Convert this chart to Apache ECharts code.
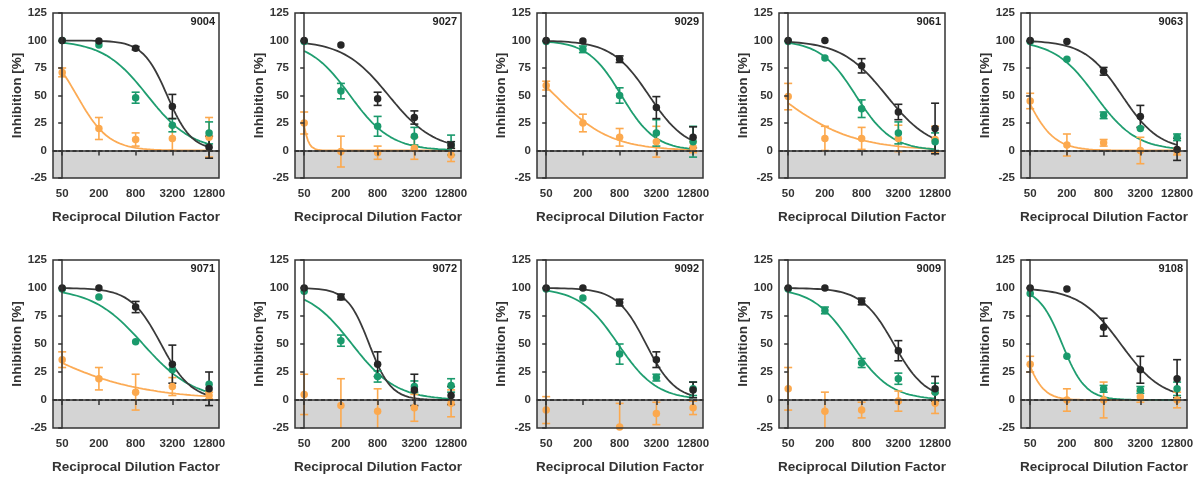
<!DOCTYPE html>
<html>
<head>
<meta charset="utf-8">
<title>Inhibition vs Reciprocal Dilution Factor</title>
<script src="https://cdn.jsdelivr.net/npm/echarts@6.0.0/dist/echarts.min.js"></script>
<style>
    html, body { margin: 0; padding: 0; background: #fff; }
    #main { width: 1203px; height: 482px; }
</style>
</head>
<body>
<div id="main"></div>
<script>
// 样本编号
var panelNames = ['9004', '9027', '9029', '9061', '9063', '9071', '9072', '9092', '9009', '9108'];
// x 轴刻度
var dilutionLabels = ['50', '200', '800', '3200', '12800'];

// 黑色组：均值 / 误差
var blackMean = [
    [100, 99.5, 93, 40, 3],
    [100, 96, 47, 30, 5],
    [100, 99.5, 83, 39, 12],
    [100, 100, 77, 35, 20],
    [100, 99, 72, 31, 1],
    [100, 100, 83, 32, 10],
    [100, 92, 32, 9, 4],
    [100, 100, 87, 36, 9],
    [100, 100, 88, 44, 10],
    [100, 99, 65, 27, 19]
];
var blackErr = [
    [0, 0, 1.5, 11, 10],
    [0, 0, 6, 6, 3],
    [0, 0, 3, 10, 9.5],
    [0, 0, 6.5, 7, 23],
    [0, 0, 3.5, 10, 10],
    [0, 0, 5, 17, 15],
    [0, 2.5, 11, 14, 8],
    [0, 0, 3, 7, 7],
    [0, 0, 3, 9, 11],
    [0, 0, 8, 12, 17]
];

// 绿色组
var greenMean = [
    [100, 96, 48, 23, 16],
    [99, 54, 22, 13, 5],
    [99, 92, 50, 16, 8],
    [99, 84, 38, 16, 8],
    [99, 83, 32, 20, 12],
    [99, 92, 52, 27, 14],
    [97, 53, 21, 12, 13],
    [99, 91, 41, 20, 10],
    [99, 80, 33, 19, 7],
    [95, 39, 10, 9, 10]
];
var greenErr = [
    [0, 0, 5, 6, 10],
    [0, 7, 9, 8, 9],
    [0, 3, 7, 12, 14],
    [0, 0, 8, 10, 8],
    [0, 0, 3, 0, 3],
    [0, 0, 0, 0, 0],
    [0, 5, 5, 5, 6],
    [0, 0, 9, 3, 6],
    [0, 3, 4, 5, 8],
    [0, 0, 3, 3, 6]
];

// 橙色组
var orangeMean = [
    [71, 20, 10, 11, 12],
    [25, -1, -2, 2, -4],
    [59, 25, 12, 8, 3],
    [49, 11, 11, 11, 10],
    [45, 5, 7, 0, -1],
    [36, 19, 7, 12, 4],
    [5, -5, -10, -7, -3],
    [-9, null, -24, -12, -7],
    [10, -10, -9, -1, -3],
    [32, 0, 0, 3, 0]
];
var orangeErr = [
    [4, 10, 6, 11, 18],
    [10, 14, 6, 10, 6],
    [4, 8, 8, 14, 5],
    [12, 11, 10, 12, 12],
    [7, 10, 3, 12, 3],
    [7, 10, 16, 8, 3],
    [18, 24, 20, 12, 12],
    [12, 0, 21, 10, 6],
    [19, 17, 7, 9, 9],
    [7, 10, 16, 5, 7]
];

// 拟合曲线参数 [IC50 位置(刻度序号), 斜率]，读自原图
var blackFit = [
    [2.86, 1.31], [2.3, 0.7], [2.8, 0.85], [2.675, 0.707], [2.5, 0.85],
    [2.69, 1.05], [1.77, 1.45], [2.72, 1.095], [2.876, 0.99], [2.466, 0.767]
];
var greenFit = [
    [2.32, 0.72], [1.25, 0.78], [2.05, 0.95], [1.843, 0.893], [1.774, 0.778],
    [2.2, 0.627], [1.3, 0.72], [1.957, 0.823], [1.73, 0.824], [0.872, 1.371]
];
var orangeFit = [
    [0.4, 1.0], [-0.12, 4.5], [0.246, 0.57], [-0.287, 0.427], [-0.123, 1.139],
    [-1.04, 0.295], null, null, null, [-0.222, 1.654]
];

var COLORS = {
    black: {point: '#262626', line: '#3a3a3a'},
    green: {point: '#1a9a6c', line: '#1f9e70'},
    orange: {point: '#fca94e', line: '#fcab55'}
};
var FONT = '"Liberation Sans", Arial, sans-serif';

$ready();

/**
 * 页面初始化
 */
function $ready() {
    var myChart = echarts.init(document.getElementById('main'), null, {renderer: 'canvas'});
    myChart.setOption(buildOption(), true);
}

/**
 * 四参数曲线（顶 100，底 0）
 */
function fitCurve(fit) {
    var pts = [];
    for (var i = 0; i <= 80; i++) {
        var x = i * 0.05;
        pts.push([x, 100 / (1 + Math.pow(10, fit[1] * (x - fit[0])))]);
    }
    return pts;
}

function toPoints(mean, err) {
    var pts = [];
    for (var i = 0; i < mean.length; i++) {
        if (mean[i] === null) continue;
        pts.push([i, mean[i], err[i]]);
    }
    return pts;
}

/**
 * 误差线
 */
function renderErrorBar(params, api) {
    var x = api.value(0), y = api.value(1), e = api.value(2);
    if (!e) return;
    var top = api.coord([x, y + e]);
    var bot = api.coord([x, y - e]);
    var w = 4;
    var style = {stroke: api.visual('color'), lineWidth: 1.6};
    return {
        type: 'group',
        children: [
            {type: 'line', shape: {x1: top[0], y1: top[1], x2: bot[0], y2: bot[1]}, style: style},
            {type: 'line', shape: {x1: top[0] - w, y1: top[1], x2: top[0] + w, y2: top[1]}, style: style},
            {type: 'line', shape: {x1: bot[0] - w, y1: bot[1], x2: bot[0] + w, y2: bot[1]}, style: style}
        ]
    };
}

function buildOption() {
    var gridLefts = [53, 295, 537, 779, 1021];
    var rowTops = [13, 260];
    var rowHeights = [165, 168];
    var width = 166;
    var grids = [], xAxes = [], yAxes = [], titles = [], series = [];

    for (var p = 0; p < panelNames.length; p++) {
        var row = Math.floor(p / 5), col = p % 5;
        var left = gridLefts[col];
        grids.push({
            left: left, top: rowTops[row], width: width, height: rowHeights[row],
            show: true, borderColor: '#333', borderWidth: 1.5,
            backgroundColor: 'transparent', z: 10
        });
        xAxes.push({
            type: 'value', gridIndex: p, min: -0.25, max: 4.27, z: 10,
            name: 'Reciprocal Dilution Factor', nameLocation: 'middle', nameGap: 32,
            nameTextStyle: {fontFamily: FONT, fontSize: 13.5, fontWeight: 'bold', color: '#333'},
            axisLine: {show: true, lineStyle: {color: '#333', width: 1.5}},
            axisTick: {show: true, length: 5, customValues: [0, 1, 2, 3, 4], lineStyle: {color: '#333', width: 1.5}},
            axisLabel: {
                customValues: [0, 1, 2, 3, 4], margin: 10,
                fontFamily: FONT, fontSize: 11.5, fontWeight: 'bold', color: '#333',
                formatter: function (v) { return dilutionLabels[Math.round(v)]; }
            },
            splitLine: {show: false}
        });
        yAxes.push({
            type: 'value', gridIndex: p, min: -25, max: 125, interval: 25, z: 10,
            name: 'Inhibition [%]', nameLocation: 'middle', nameGap: 28,
            nameTextStyle: {fontFamily: FONT, fontSize: 13.5, fontWeight: 'bold', color: '#333'},
            axisLine: {show: true, lineStyle: {color: '#333', width: 1.5}},
            axisTick: {show: true, length: 4, lineStyle: {color: '#333', width: 1.5}},
            axisLabel: {margin: 6, fontFamily: FONT, fontSize: 11.5, fontWeight: 'bold', color: '#333'},
            splitLine: {show: false}
        });
        titles.push({
            text: panelNames[p], padding: 0,
            right: 1203 - (left + width) + 4, top: rowTops[row] + 3,
            textStyle: {fontFamily: FONT, fontSize: 11, fontWeight: 'bold', color: '#222'}
        });

        // 灰色负值区域
        series.push({
            type: 'line', xAxisIndex: p, yAxisIndex: p, data: [], z: 1, silent: true,
            markArea: {silent: true, itemStyle: {color: '#d4d4d4'}, data: [[{yAxis: -25}, {yAxis: 0}]]}
        });

        var groups = [
            {c: COLORS.orange, mean: orangeMean[p], err: orangeErr[p], fit: orangeFit[p]},
            {c: COLORS.green, mean: greenMean[p], err: greenErr[p], fit: greenFit[p]},
            {c: COLORS.black, mean: blackMean[p], err: blackErr[p], fit: blackFit[p]}
        ];
        groups.forEach(function (g) {
            if (g.fit) {
                series.push({
                    type: 'line', xAxisIndex: p, yAxisIndex: p, data: fitCurve(g.fit), z: 2,
                    showSymbol: false, symbol: 'none', silent: true,
                    lineStyle: {color: g.c.line, width: 1.8}
                });
            }
        });
        // y=0 虚线
        series.push({
            type: 'line', xAxisIndex: p, yAxisIndex: p, data: [], z: 3, silent: true,
            markLine: {
                silent: true, symbol: 'none', label: {show: false},
                lineStyle: {color: '#111', width: 1.6, type: [4, 2.5]},
                data: [{yAxis: 0}]
            }
        });
        groups.forEach(function (g) {
            var pts = toPoints(g.mean, g.err);
            series.push({
                type: 'custom', xAxisIndex: p, yAxisIndex: p, data: pts, z: 4, clip: true,
                renderItem: renderErrorBar, itemStyle: {color: g.c.point, opacity: 1}, silent: true
            });
            series.push({
                type: 'scatter', xAxisIndex: p, yAxisIndex: p, data: pts, z: 5,
                symbol: 'circle', symbolSize: 7.5, itemStyle: {color: g.c.point, opacity: 1}, silent: true
            });
        });
    }

    return {
        animation: false,
        backgroundColor: '#fff',
        title: titles,
        grid: grids,
        xAxis: xAxes,
        yAxis: yAxes,
        series: series
    };
}
</script>
</body>
</html>
